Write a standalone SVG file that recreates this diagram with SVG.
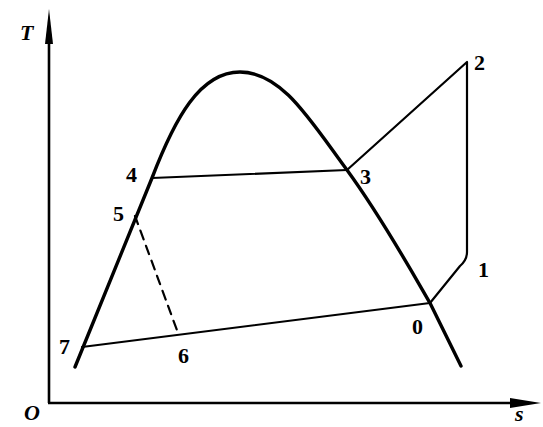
<svg xmlns="http://www.w3.org/2000/svg" width="543" height="427" viewBox="0 0 543 427">
<style>
.lbl{font-family:"Liberation Serif","DejaVu Serif",serif;font-weight:bold;font-size:22px;fill:#000}
.it{font-style:italic}
.ln{fill:none;stroke:#000;stroke-width:2.2;stroke-linecap:round;stroke-linejoin:round}
.dome{fill:none;stroke:#000;stroke-width:3.4;stroke-linecap:round;stroke-linejoin:round}
</style>
<rect width="543" height="427" fill="#fff"/>
<g id="axes">
<line x1="49" y1="403" x2="49" y2="40" stroke="#000" stroke-width="2.6"/>
<polygon points="49,9 53,44 45,44" fill="#000"/>
<line x1="48" y1="403" x2="515" y2="403" stroke="#000" stroke-width="2.6"/>
<polygon points="541,403 510,398 510,408" fill="#000"/>
<text class="lbl it" x="20" y="40">T</text>
<text class="lbl it" x="24" y="420">O</text>
<text class="lbl it" x="515" y="421">s</text>
</g>
<g id="dome">
<path class="dome" d="M75,367 L152,178 C175,118 200,72 240,72 C282,72 310,120 347,170 C382,218 412,272 430,303 L461,366"/>
</g>
<g id="connectors">
<path class="ln" d="M82,347 L430,303"/>
<path class="ln" d="M152,178 L347,170"/>
<path class="ln" d="M347,170 L467,62 L467,252 Q467,260 460,266 L430,303"/>
<path class="ln" d="M135,216 Q152,262 178,333" stroke-dasharray="9,7"/>
</g>
<g id="labels">
<text class="lbl" x="474" y="70">2</text>
<text class="lbl" x="360" y="184">3</text>
<text class="lbl" x="126" y="182">4</text>
<text class="lbl" x="113" y="221">5</text>
<text class="lbl" x="178" y="363">6</text>
<text class="lbl" x="59" y="354">7</text>
<text class="lbl" x="412" y="334">0</text>
<text class="lbl" x="478" y="277">1</text>
</g>
</svg>
